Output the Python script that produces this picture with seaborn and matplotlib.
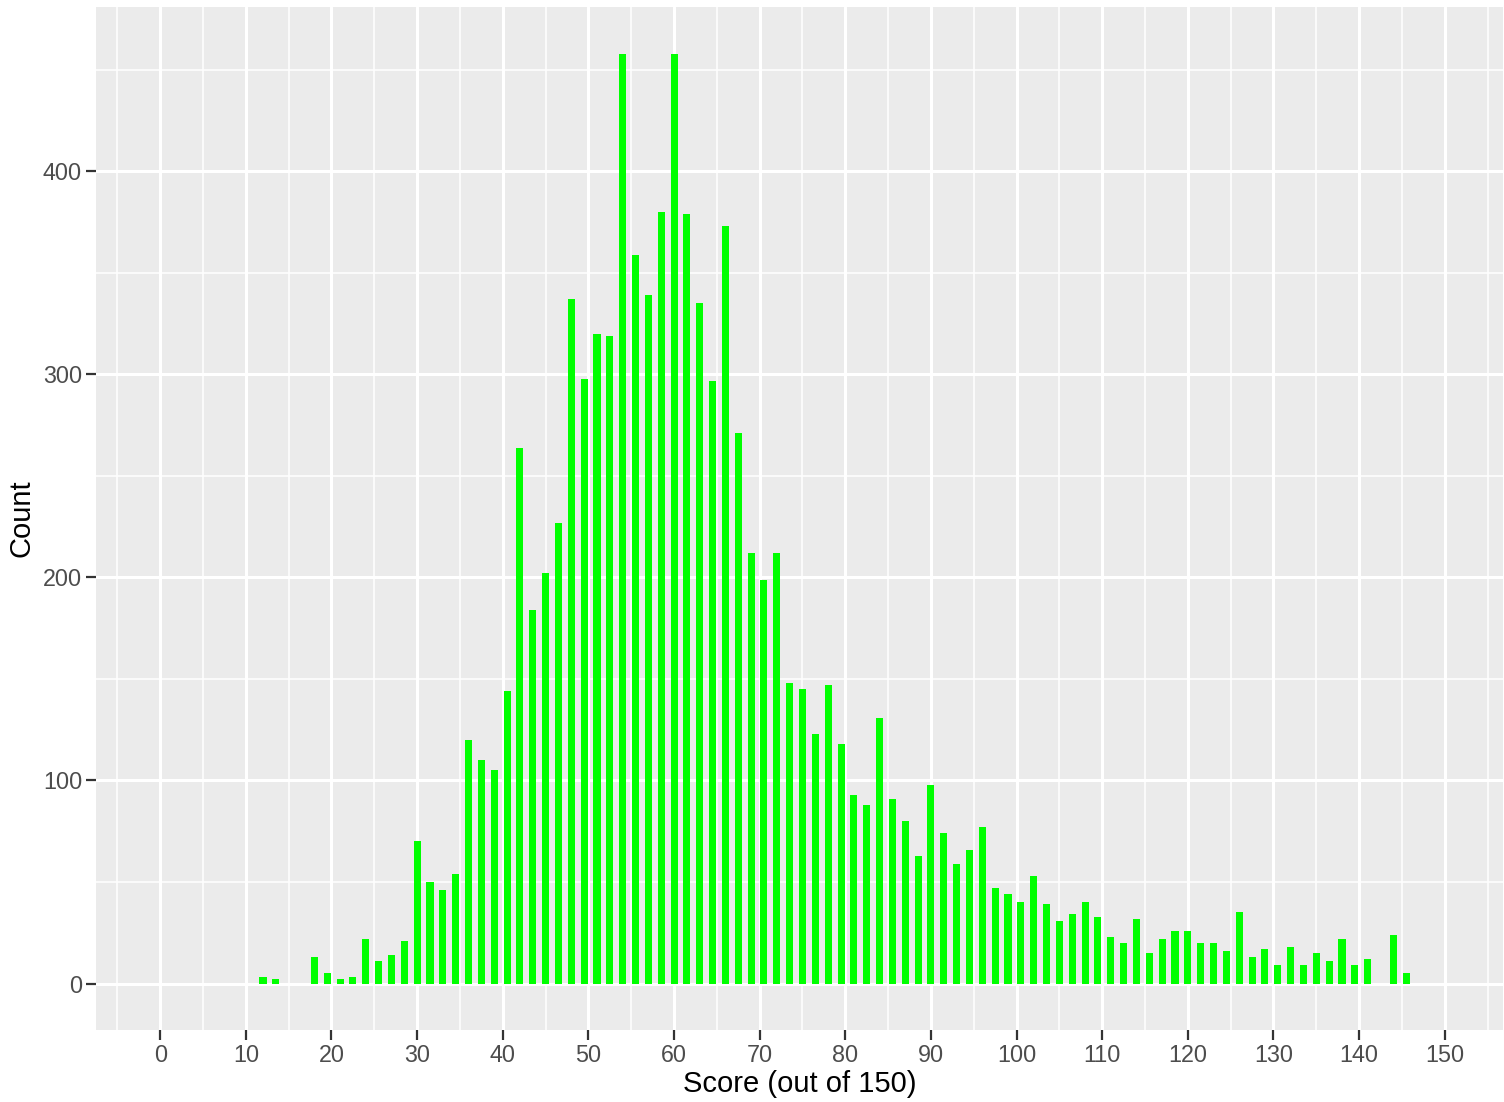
import numpy as np
import pandas as pd
import matplotlib.pyplot as plt
import seaborn as sns

# score values (steps of 1.5) and how many got each
scores = [12, 13.5, 18, 19.5, 21, 22.5, 24, 25.5, 27, 28.5,
          30, 31.5, 33, 34.5, 36, 37.5, 39, 40.5, 42, 43.5,
          45, 46.5, 48, 49.5, 51, 52.5, 54, 55.5, 57, 58.5,
          60, 61.5, 63, 64.5, 66, 67.5, 69, 70.5, 72, 73.5,
          75, 76.5, 78, 79.5, 81, 82.5, 84, 85.5, 87, 88.5,
          90, 91.5, 93, 94.5, 96, 97.5, 99, 100.5, 102, 103.5,
          105, 106.5, 108, 109.5, 111, 112.5, 114, 115.5, 117, 118.5,
          120, 121.5, 123, 124.5, 126, 127.5, 129, 130.5, 132, 133.5,
          135, 136.5, 138, 139.5, 141, 144, 145.5]
counts = [3, 2, 13, 5, 2, 3, 22, 11, 14, 21,
          70, 50, 46, 54, 120, 110, 105, 144, 264, 184,
          202, 227, 337, 298, 320, 319, 458, 359, 339, 380,
          458, 379, 335, 297, 373, 271, 212, 199, 212, 148,
          145, 123, 147, 118, 93, 88, 131, 91, 80, 63,
          98, 74, 59, 66, 77, 47, 44, 40, 53, 39,
          31, 34, 40, 33, 23, 20, 32, 15, 22, 26,
          26, 20, 20, 16, 35, 13, 17, 9, 18, 9,
          15, 11, 22, 9, 12, 24, 5]

x_major = list(range(0, 151, 10))
y_major = [0, 100, 200, 300, 400]

df = pd.DataFrame({"score": scores, "count": counts})

sns.set_theme(style="darkgrid")
plt.rcParams['font.family'] = ['Liberation Sans', 'DejaVu Sans']

fig = plt.figure(figsize=(15.04, 11.02), dpi=100)
ax = fig.add_axes([96 / 1504, 72 / 1102, 1407 / 1504, 1023 / 1102])
ax.set_facecolor('#EBEBEB')

sns.barplot(data=df, x="score", y="count", native_scale=True, width=0.55,
            color="#00FF00", saturation=1, errorbar=None, linewidth=0, ax=ax)

ax.set_xlim(-7.5, 156.8)
ax.set_ylim(-22.9, 481)
ax.set_xticks(x_major)
ax.set_xticklabels([str(v) for v in x_major])
ax.set_xticks(np.arange(-5, 160, 10), minor=True)
ax.set_yticks(y_major)
ax.set_yticklabels([str(v) for v in y_major])
ax.set_yticks(np.arange(50, 460, 100), minor=True)

ax.grid(which='major', color='white', linewidth=2.2)
ax.grid(which='minor', color='white', linewidth=1.1)
ax.set_axisbelow(True)
for s in ax.spines.values():
    s.set_visible(False)

ax.tick_params(which='major', length=7, width=1.6, color='#333333',
               labelcolor='#4D4D4D', labelsize=16.8, pad=3,
               bottom=True, left=True)
ax.tick_params(which='minor', length=0)

ax.set_xlabel("Score (out of 150)", fontsize=21, color='black', labelpad=2)
ax.set_ylabel("Count", fontsize=21, color='black', labelpad=5)

fig.savefig("out.png", dpi=100)
